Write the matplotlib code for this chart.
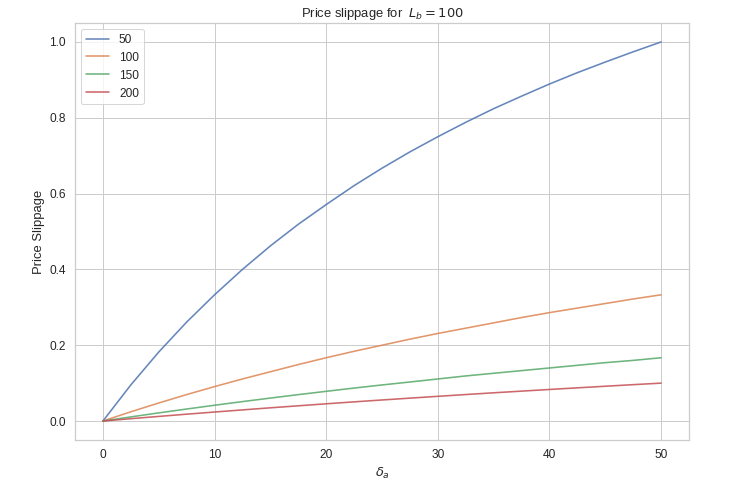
import matplotlib
matplotlib.use("Agg")
import matplotlib.pyplot as plt
import seaborn as sns

sns.set_theme(style="whitegrid", context="notebook", font_scale=1.08)
plt.rcParams['font.family'] = ['Liberation Sans', 'DejaVu Sans']

delta = [0, 2.5, 5, 7.5, 10, 12.5, 15, 17.5, 20, 22.5, 25, 27.5, 30,
         32.5, 35, 37.5, 40, 42.5, 45, 47.5, 50]
labels = ["50", "100", "150", "200"]
s50 = [0, 0.0952, 0.182, 0.261, 0.333, 0.400, 0.462, 0.519, 0.571, 0.621, 0.667,
       0.710, 0.750, 0.788, 0.824, 0.857, 0.889, 0.919, 0.947, 0.974, 1.000]
s100 = [0, 0.0244, 0.0476, 0.0698, 0.0909, 0.111, 0.130, 0.149, 0.167, 0.184, 0.200,
        0.216, 0.231, 0.245, 0.259, 0.273, 0.286, 0.298, 0.310, 0.322, 0.333]
s150 = [0, 0.0109, 0.0215, 0.0317, 0.0417, 0.0513, 0.0606, 0.0697, 0.0784, 0.0870, 0.0952,
        0.103, 0.111, 0.119, 0.126, 0.133, 0.140, 0.147, 0.154, 0.160, 0.167]
s200 = [0, 0.0062, 0.0122, 0.0181, 0.0238, 0.0294, 0.0349, 0.0402, 0.0455, 0.0506, 0.0556,
        0.0604, 0.0652, 0.0699, 0.0745, 0.0789, 0.0833, 0.0876, 0.0918, 0.0960, 0.100]
series = [s50, s100, s150, s200]

fig, ax = plt.subplots(figsize=(754/72, 493/72), dpi=72)
fig.subplots_adjust(left=75/754, right=689/754, top=1-23/493, bottom=1-440/493)
for lab, s in zip(labels, series):
    ax.plot(delta, s, label=lab, alpha=0.85, linewidth=1.6)
ax.set_title(r"Price slippage for  $L_b = 100$")
ax.set_xlabel(r"$\delta_a$")
ax.set_ylabel("Price Slippage")
ax.legend(loc="upper left")
fig.savefig("out.png", dpi=72)
